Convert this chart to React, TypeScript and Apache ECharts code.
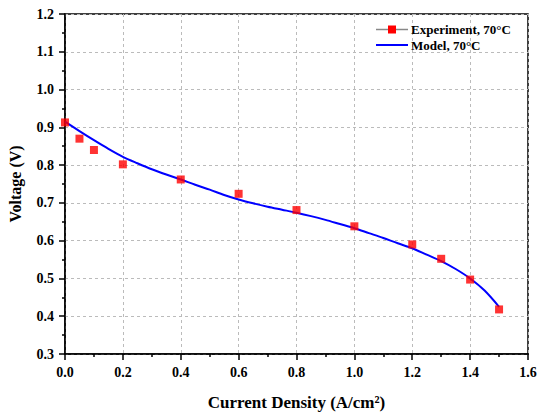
import React, { useEffect, useRef } from "react";
import * as echarts from "echarts";

const expX = [0, 0.05, 0.1, 0.2, 0.4, 0.6, 0.8, 1.0, 1.2, 1.3, 1.4, 1.5];
const expY = [0.913, 0.870, 0.840, 0.802, 0.762, 0.724, 0.681, 0.638, 0.590, 0.552, 0.497, 0.418];

const modelX = [0, 0.05, 0.1, 0.15, 0.2, 0.25, 0.3, 0.35, 0.4, 0.45, 0.5, 0.55, 0.6, 0.65, 0.7, 0.75, 0.8, 0.85, 0.9, 0.95, 1.0, 1.05, 1.1, 1.15, 1.2, 1.25, 1.3, 1.35, 1.4, 1.45, 1.5];
const modelY = [0.915, 0.89, 0.866, 0.843, 0.822, 0.805, 0.789, 0.775, 0.762, 0.748, 0.735, 0.721, 0.709, 0.699, 0.690, 0.682, 0.674, 0.665, 0.655, 0.644, 0.633, 0.620, 0.607, 0.593, 0.580, 0.563, 0.546, 0.525, 0.500, 0.468, 0.425];

const legendNames = ["Experiment, 70°C", "Model, 70°C"];

const FONT = "'Liberation Serif', 'Times New Roman', serif";

export default function App() {
  const ref = useRef<HTMLDivElement>(null);
  useEffect(() => {
    if (!ref.current) return;
    const chart = echarts.init(ref.current, undefined, { renderer: "svg" });
    const axisLabel = { color: "#000", fontFamily: FONT, fontWeight: "bold", fontSize: 14 };
    const legendText = { fill: "#000", fontFamily: FONT, fontWeight: "bold", fontSize: 13, verticalAlign: "middle", align: "left" };
    chart.setOption({
      animation: false,
      backgroundColor: "#fff",
      grid: { left: 65, right: 9, top: 14, bottom: 58, show: true, borderColor: "#000", borderWidth: 1.5, backgroundColor: "transparent", containLabel: false, outerBoundsMode: "none" },
      graphic: [
        { type: "line", shape: { x1: 376, y1: 29.5, x2: 408, y2: 29.5 }, style: { stroke: "#888", lineWidth: 1.5 }, z: 10 },
        { type: "rect", shape: { x: 388, y: 25.5, width: 8, height: 8 }, style: { fill: "#ff0000" }, z: 11 },
        { type: "text", x: 411, y: 29.5, style: { ...legendText, text: legendNames[0] }, z: 10 },
        { type: "line", shape: { x1: 376, y1: 45, x2: 408, y2: 45 }, style: { stroke: "#0000ff", lineWidth: 2 }, z: 10 },
        { type: "text", x: 411, y: 45, style: { ...legendText, text: legendNames[1] }, z: 10 },
      ],
      xAxis: {
        type: "value",
        min: 0,
        max: 1.6,
        interval: 0.2,
        name: "Current Density (A/cm²)",
        nameLocation: "middle",
        nameGap: 40,
        nameTextStyle: { color: "#000", fontFamily: FONT, fontWeight: "bold", fontSize: 17 },
        axisLine: { lineStyle: { color: "#000", width: 1.5 } },
        axisTick: { show: true, length: 6, lineStyle: { color: "#000", width: 1.5 } },
        minorTick: { show: true, splitNumber: 2, length: 3, lineStyle: { color: "#000", width: 1.5 } },
        splitLine: { show: true, lineStyle: { color: "#bbb", type: [3, 3], width: 1 } },
        axisLabel: { ...axisLabel, margin: 11, formatter: (v: number) => v.toFixed(1) },
      },
      yAxis: {
        type: "value",
        min: 0.3,
        max: 1.2,
        interval: 0.1,
        name: "Voltage (V)",
        nameLocation: "middle",
        nameGap: 42,
        nameTextStyle: { color: "#000", fontFamily: FONT, fontWeight: "bold", fontSize: 16 },
        axisLine: { lineStyle: { color: "#000", width: 1.5 } },
        axisTick: { show: true, length: 6, lineStyle: { color: "#000", width: 1.5 } },
        minorTick: { show: true, splitNumber: 2, length: 3, lineStyle: { color: "#000", width: 1.5 } },
        splitLine: { show: true, lineStyle: { color: "#bbb", type: [3, 3], width: 1 } },
        axisLabel: { ...axisLabel, margin: 11, formatter: (v: number) => v.toFixed(1) },
      },
      series: [
        {
          name: legendNames[1],
          type: "line",
          data: modelX.map((x, i) => [x, modelY[i]]),
          smooth: 0.3,
          symbol: "none",
          lineStyle: { color: "#0000ff", width: 2 },
          itemStyle: { color: "#0000ff" },
          z: 2,
        },
        {
          name: legendNames[0],
          type: "scatter",
          data: expX.map((x, i) => [x, expY[i]]),
          symbol: "rect",
          symbolSize: 8,
          itemStyle: { color: "#ff0000" },
          z: 3,
        },
      ],
    });
    return () => chart.dispose();
  }, []);
  return <div ref={ref} style={{ width: 537, height: 412, position: "absolute", left: 0, top: 0 }} />;
}
